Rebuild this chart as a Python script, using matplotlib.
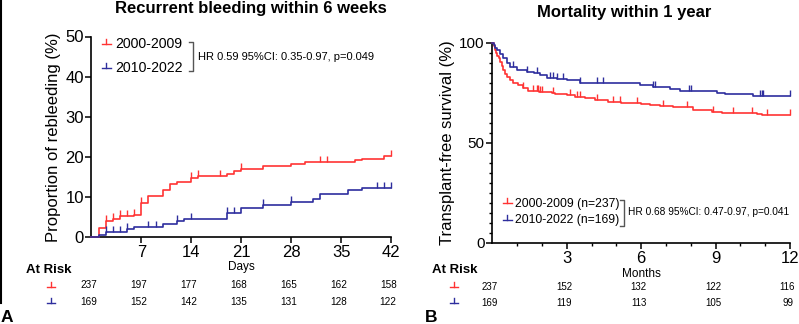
import numpy as np
import matplotlib
matplotlib.use("Agg")
import matplotlib.pyplot as plt
from matplotlib.lines import Line2D
from matplotlib import transforms

plt.rcParams['font.family'] = ['Liberation Sans', 'DejaVu Sans']

# Panel A: recurrent bleeding within 6 weeks (cumulative %, step times in days)
t_a_red = [0, 1, 2, 3, 4, 6, 7, 8, 10, 11, 12, 14, 15, 19, 20, 21, 24, 28, 30, 37, 38, 41, 42]
v_a_red = [0, 2.3, 4.1, 4.5, 5.3, 5.6, 8.4, 10.1, 11.6, 13.2, 13.8, 14.6, 15.2, 15.8, 16.4, 17.0,
           17.6, 18.1, 18.7, 19.1, 19.5, 20.3, 20.3]
t_a_blue = [0, 1, 2, 5, 6, 10, 12, 13, 19, 21, 24, 28, 31, 32, 36, 38, 42]
v_a_blue = [0, 0.6, 1.3, 2.0, 2.5, 3.3, 4.1, 4.6, 6.0, 7.3, 8.0, 8.8, 9.5, 10.8, 11.6, 12.3, 12.3]
cens_a_red = [2, 3, 4, 5, 6, 7, 14, 15, 18, 21, 32, 33, 42]
cens_a_blue = [2, 3, 4, 5, 8, 9, 12, 14, 19, 20, 24, 28, 40, 41, 42]

days_ticks = [0, 7, 14, 21, 28, 35, 42]
risk_a_red = [237, 197, 177, 168, 165, 162, 158]
risk_a_blue = [169, 152, 142, 135, 131, 128, 122]

# Panel B: transplant-free survival within 1 year (%, step times in months)
t_b_red = [0, 0.05, 0.1, 0.15, 0.2, 0.25, 0.3, 0.38, 0.45, 0.51, 0.6, 0.71, 0.85, 1.05, 1.25, 1.45,
           1.9, 2.4, 2.53, 3.0, 3.33, 3.74, 4.14, 4.68, 5.2, 6.0, 6.36, 6.76, 7.3, 8.1, 8.84, 9.25,
           10.66, 10.86, 12]
v_b_red = [100, 98.5, 96.5, 95, 93.5, 92.3, 90.5, 88.5, 86.5, 84.5, 83, 81.5, 80, 79, 77.3, 76,
           75.6, 75.2, 74.3, 74, 73.2, 72.3, 71.5, 70.3, 69.8, 69.3, 69, 68.5, 67.8, 66.5, 65.3, 64.8,
           64.4, 63.8, 63.8]
t_b_blue = [0, 0.05, 0.1, 0.18, 0.3, 0.44, 0.6, 0.71, 0.98, 1.39, 1.7, 1.92, 2.19, 2.6, 3.0, 3.54,
            5.96, 6.49, 7.17, 7.57, 9.05, 9.38, 10.52, 12]
v_b_blue = [100, 98.8, 97.6, 96.5, 94.5, 92.3, 90, 88.2, 86.5, 85.7, 84.8, 84, 82.3, 82, 81.5, 79.8,
            79, 78.2, 77, 76, 75.2, 74.3, 73.7, 73.7]
cens_b_red = [1.25, 1.66, 1.79, 1.86, 1.92, 1.99, 2.46, 3.13, 3.4, 3.54, 4.21, 4.88, 5.15, 5.82,
              6.9, 7.84, 8.91, 9.72, 10.46, 11.06, 12]
cens_b_blue = [0.85, 1.39, 1.79, 2.33, 2.46, 2.6, 2.86, 3.54, 4.21, 4.48, 6.49, 6.56, 7.92, 8.0,
               10.8, 10.86, 10.93, 12]

month_ticks = [0, 3, 6, 9, 12]
risk_b_red = [237, 152, 132, 122, 116]
risk_b_blue = [169, 119, 113, 105, 99]

RED = '#ff3333'
BLUE = '#2e2e9e'
W, H = 799, 324
TICK_UP = [(0, 0), (0, 1)]


def fx(x):
    return x / W


def fy(y):
    return 1 - y / H


def valor_em(t, v, c):
    idx = np.searchsorted(t, c, side='right') - 1
    return np.array(v)[np.clip(idx, 0, len(v) - 1)]


def curva(ax, t, v, cens, cor):
    ax.step(t, v, where='post', color=cor, lw=1.2, clip_on=False, zorder=3)
    ax.plot(cens, valor_em(t, v, cens), ls='none', marker=TICK_UP, ms=8, mew=1.0,
            color=cor, clip_on=False, zorder=3)


def estilo(ax):
    for s in ['top', 'right']:
        ax.spines[s].set_visible(False)
    for s in ['left', 'bottom']:
        ax.spines[s].set_linewidth(1.2)
    ax.tick_params(which='major', direction='out', length=4, width=1.1, pad=1.5)
    ax.tick_params(which='minor', direction='out', length=2.5, width=1.0)


def simbolo(fig, x, y, cor, comp=9):
    fig.add_artist(Line2D([fx(x - comp / 2), fx(x + comp / 2)], [fy(y), fy(y)], color=cor, lw=1.0))
    fig.add_artist(Line2D([fx(x), fx(x)], [fy(y), fy(y - 5)], color=cor, lw=1.0))


def chave(fig, x, y0, y1):
    fig.add_artist(Line2D([fx(x - 4), fx(x), fx(x), fx(x - 4)], [fy(y0), fy(y0), fy(y1), fy(y1)],
                          color='#555555', lw=1.0))


fig = plt.figure(figsize=(W / 100, H / 100), dpi=100)

# ---- Panel A ----
ax1 = fig.add_axes([fx(91.4), fy(237), (391 - 91.4) / W, (237 - 36.5) / H])
curva(ax1, t_a_red, v_a_red, cens_a_red, RED)
curva(ax1, t_a_blue, v_a_blue, cens_a_blue, BLUE)
ax1.set_xlim(0, 42)
ax1.set_ylim(0, 50)
ax1.set_xticks(days_ticks[1:])
ax1.set_yticks([0, 10, 20, 30, 40, 50])
estilo(ax1)
ax1.tick_params(labelsize=12)
ax1.set_ylabel('Proportion of rebleeding (%)', fontsize=12, labelpad=3)
ax1.set_xlabel('Days', fontsize=8.5, labelpad=1)

fig.text(fx(251), fy(8.5), 'Recurrent bleeding within 6 weeks', fontsize=12, fontweight='bold',
         ha='center', va='center')

# legend A
simbolo(fig, 106, 44, RED)
simbolo(fig, 106, 68, BLUE)
fig.text(fx(115), fy(44.5), '2000-2009', fontsize=10.2, va='center')
fig.text(fx(115), fy(68.5), '2010-2022', fontsize=10.2, va='center')
chave(fig, 192.5, 42, 71)
fig.text(fx(198), fy(56.5), 'HR 0.59 95%CI: 0.35-0.97, p=0.049', fontsize=8, va='center')

# risk table A
tr1 = transforms.blended_transform_factory(ax1.transData, fig.transFigure)
fig.text(fx(26), fy(270), 'At Risk', fontsize=9.5, fontweight='bold', va='center')
simbolo(fig, 51, 287, RED, 8)
simbolo(fig, 51, 303, BLUE, 8)
for d, a, b in zip(days_ticks, risk_a_red, risk_a_blue):
    ax1.text(d - 0.4, fy(285.5), str(a), transform=tr1, fontsize=7.2, ha='center', va='center')
    ax1.text(d - 0.4, fy(302), str(b), transform=tr1, fontsize=7.2, ha='center', va='center')
fig.text(fx(1), fy(317), 'A', fontsize=12.5, fontweight='bold', va='center')

# ---- Panel B ----
ax2 = fig.add_axes([fx(492.3), fy(243), (790 - 492.3) / W, (243 - 43) / H])
curva(ax2, t_b_red, v_b_red, cens_b_red, RED)
curva(ax2, t_b_blue, v_b_blue, cens_b_blue, BLUE)
ax2.set_xlim(0, 12)
ax2.set_ylim(0, 100)
ax2.set_xticks(month_ticks[1:])
ax2.set_xticks(np.arange(1, 12), minor=True)
ax2.set_yticks([0, 50, 100])
ax2.set_yticks(np.arange(5, 100, 5), minor=True)
estilo(ax2)
ax2.tick_params(axis='x', labelsize=12)
ax2.tick_params(axis='y', labelsize=11)
ax2.set_ylabel('Transplant-free survival (%)', fontsize=12, labelpad=3)
ax2.set_xlabel('Months', fontsize=8.5, labelpad=2)

fig.text(fx(624), fy(13), 'Mortality within 1 year', fontsize=12, fontweight='bold',
         ha='center', va='center')

# legend B
simbolo(fig, 507, 203, RED)
simbolo(fig, 507, 220, BLUE)
fig.text(fx(515), fy(203.5), '2000-2009 (n=237)', fontsize=8.7, va='center')
fig.text(fx(515), fy(220.5), '2010-2022 (n=169)', fontsize=8.7, va='center')
chave(fig, 624, 200, 226)
fig.text(fx(628), fy(212), 'HR 0.68 95%CI: 0.47-0.97, p=0.041', fontsize=7.3, va='center')

# risk table B
tr2 = transforms.blended_transform_factory(ax2.transData, fig.transFigure)
fig.text(fx(432), fy(270), 'At Risk', fontsize=9.5, fontweight='bold', va='center')
simbolo(fig, 454, 287, RED, 8)
simbolo(fig, 454, 303, BLUE, 8)
for m, a, b in zip(month_ticks, risk_b_red, risk_b_blue):
    ax2.text(m - 0.1, fy(286.5), str(a), transform=tr2, fontsize=7, ha='center', va='center')
    ax2.text(m - 0.1, fy(302.5), str(b), transform=tr2, fontsize=7, ha='center', va='center')
fig.text(fx(425), fy(317), 'B', fontsize=12.5, fontweight='bold', va='center')

# borda esquerda
fig.add_artist(Line2D([fx(0.8), fx(0.8)], [fy(0), fy(303)], color='black', lw=1.5))

fig.savefig('out.png', dpi=100)
